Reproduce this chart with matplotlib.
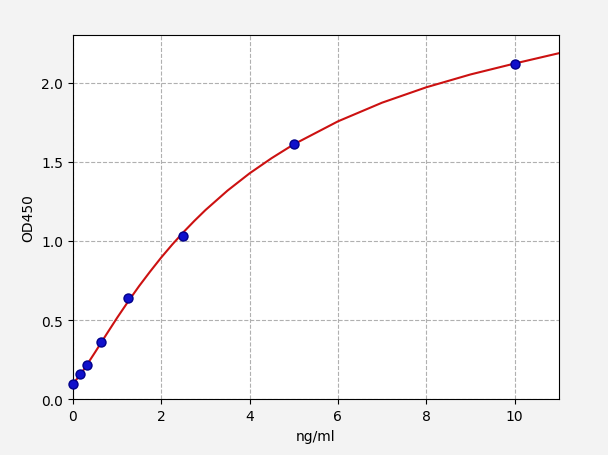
import matplotlib
matplotlib.use('Agg')
import matplotlib.pyplot as plt

# --- standard points ---
conc = [0, 0.156, 0.312, 0.625, 1.25, 2.5, 5, 10]
od450 = [0.10, 0.16, 0.22, 0.36, 0.64, 1.03, 1.61, 2.12]

# --- fitted curve ---
curve_x = [0, 0.125, 0.25, 0.5, 0.75, 1, 1.25, 1.5, 1.75, 2, 2.25, 2.5, 2.75, 3, 3.5, 4, 4.5, 5,
           6, 7, 8, 9, 10, 11]
curve_y = [0.10, 0.14, 0.19, 0.297, 0.407, 0.515, 0.618, 0.716, 0.808, 0.896, 0.978, 1.055,
           1.127, 1.195, 1.318, 1.427, 1.523, 1.61, 1.755, 1.873, 1.97, 2.051, 2.12, 2.185]

fig = plt.figure(figsize=(6.08, 4.56), dpi=100, facecolor='#f3f3f3')
ax = fig.add_axes([0.12, 0.122, 0.799, 0.799])
ax.set_facecolor('white')

ax.plot(curve_x, curve_y, color='#cc1111', lw=1.5, zorder=2)
ax.scatter(conc, od450, color='#1010cc', edgecolor='#00008a', s=42, zorder=3, clip_on=False)

ax.set_xlim(0, 11)
ax.set_ylim(0, 2.3)
ax.set_xticks([0, 2, 4, 6, 8, 10])
ax.set_yticks([0.0, 0.5, 1.0, 1.5, 2.0])
ax.grid(True, linestyle='--', color='#b0b0b0', lw=0.8)
ax.set_xlabel('ng/ml')
ax.set_ylabel('OD450')

fig.savefig('out.png', dpi=100, facecolor=fig.get_facecolor())
